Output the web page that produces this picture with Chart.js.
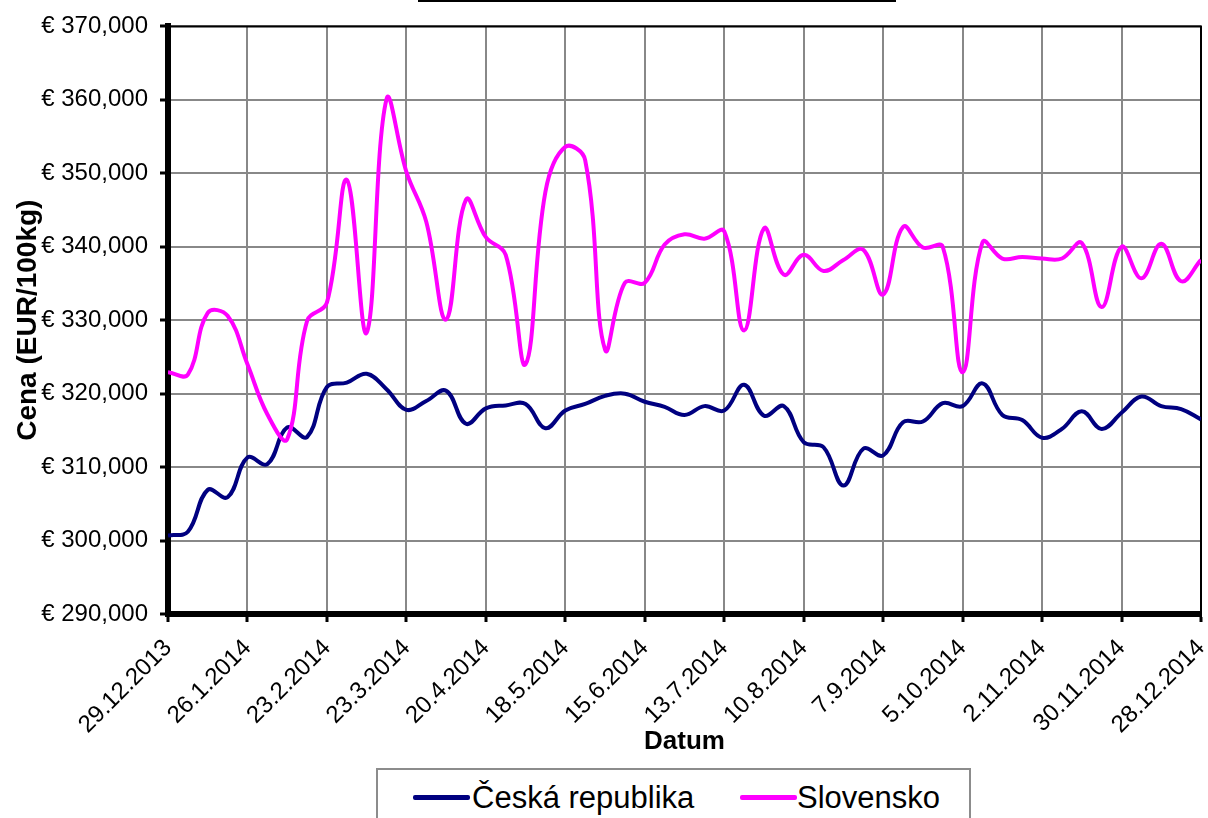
<!DOCTYPE html>
<html>
<head>
<meta charset="utf-8">
<script src="https://cdn.jsdelivr.net/npm/chart.js@4.4.1/dist/chart.umd.min.js"></script>
<style>
  html, body { margin: 0; padding: 0; background: #fff; overflow: hidden; }
  #wrap { position: relative; width: 1208px; height: 818px; }
  #title-line { position: absolute; left: 418px; top: 0; width: 478px; height: 2px; background: #000; }
  #legend {
    position: absolute; left: 376px; top: 768px; width: 595px; height: 70px;
    box-sizing: border-box; border: 2px solid #8c8c8c; background: #fff;
    font-family: "Liberation Sans", Arial, sans-serif; font-size: 31px; color: #000;
  }
  #legend .txt { position: absolute; top: 12px; line-height: 31px; white-space: nowrap; }
  #legend .swatch { position: absolute; top: 25px; width: 57px; height: 5px; border-radius: 2px; }
</style>
</head>
<body>
<div id="wrap">
  <canvas id="chart"></canvas>
  <div id="title-line"></div>
  <div id="legend">
    <span class="swatch" style="left:35px;background:#000080"></span>
    <span class="txt" style="left:94px">Česká republika</span>
    <span class="swatch" style="left:362px;background:#ff00ff"></span>
    <span class="txt" style="left:419px">Slovensko</span>
  </div>
</div>
<script>
// ─── DATA ────────────────────────────────────────────────────
// weekly prices, 29.12.2013 .. 28.12.2014 (53 weeks)
const tickLabels = ['29.12.2013', '26.1.2014', '23.2.2014', '23.3.2014', '20.4.2014', '18.5.2014',
  '15.6.2014', '13.7.2014', '10.8.2014', '7.9.2014', '5.10.2014', '2.11.2014', '30.11.2014', '28.12.2014'];

const czPrices = [
  300.7, 301.2, 306.9, 305.9, 311.3, 310.4, 315.4, 314.1, 320.9, 321.5,
  322.7, 320.6, 317.8, 319.0, 320.4, 315.9, 318.0, 318.4, 318.6, 315.3,
  317.7, 318.6, 319.7, 320.0, 318.9, 318.2, 317.1, 318.3, 317.7, 321.2,
  317.0, 318.3, 313.4, 312.7, 307.5, 312.5, 311.6, 316.1, 316.2, 318.7,
  318.3, 321.4, 317.1, 316.4, 314.0, 315.2, 317.6, 315.2, 317.4, 319.6,
  318.3, 317.9, 316.5
];

const skPrices = [
  322.9, 322.6, 331.0, 330.6, 324.0, 317.2, 313.8, 329.9, 332.4, 349.1,
  328.3, 360.1, 350.2, 343.4, 330.1, 346.4, 341.3, 338.9, 324.0, 347.5,
  353.6, 351.8, 326.0, 335.1, 335.1, 340.3, 341.7, 341.1, 342.1, 328.6,
  342.5, 336.2, 338.9, 336.7, 338.2, 339.6, 333.5, 342.7, 339.9, 340.0,
  322.9, 340.6, 338.4, 338.6, 338.4, 338.4, 340.5, 331.8, 340.0, 335.7,
  340.4, 335.3, 338.2
];

// ─── CHART ───────────────────────────────────────────────────
const FONT = '"Liberation Sans", Arial, sans-serif';

const plotFrame = {
  id: 'plotFrame',
  beforeDatasetsDraw(chart) {
    const { ctx, chartArea: a } = chart;
    ctx.save();
    ctx.strokeStyle = '#000';
    ctx.lineWidth = 2;
    ctx.beginPath();
    ctx.moveTo(a.left, a.top);
    ctx.lineTo(a.right, a.top);
    ctx.lineTo(a.right, a.bottom);
    ctx.stroke();
    ctx.restore();
  }
};

const toPoints = arr => arr.map((v, i) => ({ x: i, y: v }));

new Chart(document.getElementById('chart').getContext('2d'), {
  type: 'line',
  data: {
    datasets: [
      {
        label: 'Česká republika',
        data: toPoints(czPrices),
        borderColor: '#000080',
        borderWidth: 4,
        pointRadius: 0,
        tension: 0.4,
        order: 1
      },
      {
        label: 'Slovensko',
        data: toPoints(skPrices),
        borderColor: '#ff00ff',
        borderWidth: 4,
        pointRadius: 0,
        tension: 0.4,
        order: 0
      }
    ]
  },
  options: {
    responsive: true,
    maintainAspectRatio: false,
    animation: false,
    layout: { padding: { top: 24, right: 7, left: 0, bottom: 0 } },
    plugins: {
      legend: { display: false },
      tooltip: { enabled: false }
    },
    scales: {
      x: {
        type: 'linear',
        min: 0,
        max: 52,
        afterFit(s) { s.height = 204; s.paddingRight = 0; s.paddingLeft = 0; },
        border: { color: '#000', width: 6 },
        grid: { color: '#888', lineWidth: 2, tickColor: '#000', tickLength: 8, tickWidth: 3 },
        ticks: {
          stepSize: 4,
          autoSkip: false,
          maxRotation: 45,
          minRotation: 45,
          padding: 12,
          color: '#000',
          font: { family: FONT, size: 24 },
          callback: v => tickLabels[v / 4]
        },
        title: {
          display: true,
          text: 'Datum',
          color: '#000',
          font: { family: FONT, size: 26, weight: 'bold' },
          padding: { top: 0, bottom: 61 }
        }
      },
      y: {
        min: 290,
        max: 370,
        afterFit(s) { s.width = 168; },
        border: { color: '#000', width: 6 },
        grid: { color: '#888', lineWidth: 2, tickColor: '#000', tickLength: 8, tickWidth: 3 },
        ticks: {
          stepSize: 10,
          padding: 12,
          color: '#000',
          font: { family: FONT, size: 24 },
          callback: v => '€ ' + v.toFixed(3).replace('.', ',')
        },
        title: {
          display: true,
          text: 'Cena (EUR/100kg)',
          color: '#000',
          font: { family: FONT, size: 28, weight: 'bold' },
          padding: { top: 11, bottom: 0 }
        }
      }
    }
  },
  plugins: [plotFrame]
});
</script>
</body>
</html>
